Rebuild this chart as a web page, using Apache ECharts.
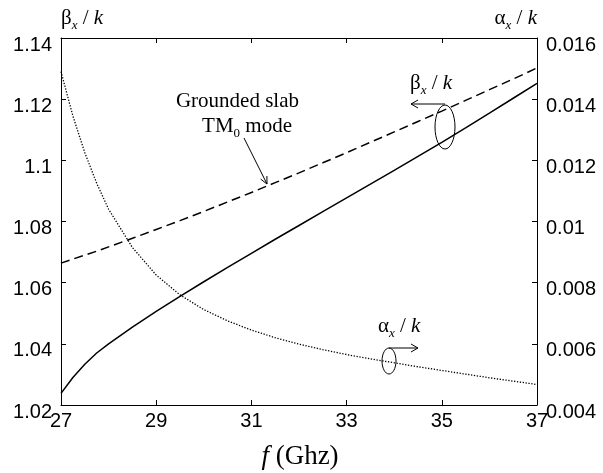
<!DOCTYPE html>
<html>
<head>
<meta charset="utf-8">
<script src="https://cdn.jsdelivr.net/npm/echarts@6.0.0/dist/echarts.min.js"></script>
<style>
  html, body { margin: 0; padding: 0; background: #fff; }
  #chart { width: 603px; height: 473px; }
</style>
</head>
<body>
<div id="chart"></div>
<script>
// Frequency samples (GHz)
const freq = [27, 27.25, 27.5, 27.75, 28, 28.5, 29, 29.5, 30, 30.5, 31, 31.5, 32,
              32.5, 33, 33.5, 34, 34.5, 35, 35.5, 36, 36.5, 37];

// Normalized phase constant of the leaky mode (left axis)
const betaLeaky = [1.0238, 1.0290, 1.0333, 1.0370, 1.0400, 1.0455, 1.0506, 1.0555, 1.0603,
                   1.0650, 1.0696, 1.0742, 1.0787, 1.0832, 1.0877, 1.0922, 1.0967, 1.1013,
                   1.1059, 1.1106, 1.1154, 1.1203, 1.1252];

// Grounded slab TM0 mode (left axis)
const betaSlab = [1.0664, 1.0677, 1.0690, 1.0703, 1.0717, 1.0745, 1.0774, 1.0803, 1.0833,
                  1.0864, 1.0895, 1.0927, 1.0959, 1.0992, 1.1025, 1.1059, 1.1093, 1.1127,
                  1.1161, 1.1196, 1.1231, 1.1266, 1.1302];

// Normalized attenuation constant of the leaky mode (right axis)
const alphaLeaky = [0.01490, 0.01345, 0.01225, 0.01125, 0.01040, 0.00915, 0.00825, 0.00760,
                    0.00712, 0.00675, 0.00645, 0.00620, 0.00599, 0.00581, 0.00565, 0.00551,
                    0.00538, 0.00525, 0.00513, 0.00501, 0.00489, 0.00478, 0.00467];

const freqTicks = [27, 29, 31, 33, 35, 37];
const betaRange = [1.02, 1.14, 0.02];
const alphaRange = [0.004, 0.016, 0.002];

const SERIF = '"Liberation Serif", "DejaVu Serif", serif';
const SANS = '"Liberation Sans", Arial, sans-serif';

const pairs = (ys) => freq.map((f, i) => [f, ys[i]]);

const tickStyle = { show: true, inside: true, length: 5, lineStyle: { color: '#000', width: 1 } };
const lineAxis = { show: true, lineStyle: { color: '#000', width: 1 } };
// value labels sit a little below their ticks
const yLabel = {
  color: '#000', fontFamily: SANS, fontSize: 20, margin: 9,
  verticalAlign: 'top', lineHeight: 14
};

// Rich-text styles shared by the math-like labels
function mathRich(size) {
  return {
    g: { fontFamily: SERIF, fontSize: size, lineHeight: size + 8, color: '#000' },
    s: { fontFamily: SERIF, fontSize: Math.round(size * 0.62), fontStyle: 'italic',
         lineHeight: Math.round(size * 0.62), verticalAlign: 'bottom', color: '#000' },
    i: { fontFamily: SERIF, fontSize: size, fontStyle: 'italic', lineHeight: size + 8, color: '#000' },
    n: { fontFamily: SERIF, fontSize: size, lineHeight: size + 8, color: '#000' }
  };
}

const chart = echarts.init(document.getElementById('chart'), null, { renderer: 'canvas' });

// open arrowhead on a horizontal arrow (dir +1 right, -1 left)
const arrowHead = (x, y, dir) => [[x - dir * 7, y - 4], [x, y], [x - dir * 7, y + 4]];

// open arrowhead at the end of a slanted segment
function headAlong(x0, y0, x1, y1) {
  const a = Math.atan2(y1 - y0, x1 - x0);
  const L = 8, w = 0.45;
  return [
    [x1 - L * Math.cos(a - w), y1 - L * Math.sin(a - w)],
    [x1, y1],
    [x1 - L * Math.cos(a + w), y1 - L * Math.sin(a + w)]
  ];
}

const stroke = { stroke: '#000', lineWidth: 1, fill: null };

const option = {
  animation: false,
  backgroundColor: '#fff',
  grid: { left: 61, right: 66, top: 38, bottom: 68, containLabel: false },
  xAxis: [
    {
      type: 'value', position: 'bottom', min: freqTicks[0], max: freqTicks[freqTicks.length - 1],
      axisLine: lineAxis,
      axisTick: Object.assign({ customValues: freqTicks }, tickStyle),
      axisLabel: { customValues: freqTicks, color: '#000', fontFamily: SANS, fontSize: 20, margin: 6 },
      splitLine: { show: false }
    },
    {
      type: 'value', position: 'top', min: freqTicks[0], max: freqTicks[freqTicks.length - 1],
      axisLine: lineAxis,
      axisTick: Object.assign({ customValues: freqTicks }, tickStyle),
      axisLabel: { show: false },
      splitLine: { show: false }
    }
  ],
  yAxis: [
    {
      type: 'value', position: 'left', min: betaRange[0], max: betaRange[1], interval: betaRange[2],
      axisLine: lineAxis, axisTick: tickStyle, axisLabel: yLabel,
      splitLine: { show: false }
    },
    {
      type: 'value', position: 'right', min: alphaRange[0], max: alphaRange[1], interval: alphaRange[2],
      axisLine: lineAxis, axisTick: tickStyle, axisLabel: yLabel,
      splitLine: { show: false }
    }
  ],
  series: [
    {
      name: 'leaky beta', type: 'line', xAxisIndex: 0, yAxisIndex: 0,
      data: pairs(betaLeaky), showSymbol: false, smooth: false,
      lineStyle: { color: '#000', width: 1.5, type: 'solid' }, silent: true
    },
    {
      name: 'slab beta', type: 'line', xAxisIndex: 0, yAxisIndex: 0,
      data: pairs(betaSlab), showSymbol: false, smooth: false,
      lineStyle: { color: '#000', width: 1.5, type: [9, 5] }, silent: true
    },
    {
      name: 'leaky alpha', type: 'line', xAxisIndex: 0, yAxisIndex: 1,
      data: pairs(alphaLeaky), showSymbol: false, smooth: false,
      lineStyle: { color: '#000', width: 1.3, type: [1.3, 1.6] }, silent: true
    }
  ],
  graphic: [
    // axis titles
    { type: 'text', x: 61, y: 18, style: {
        text: '{g|β}{s|x}{n| / }{i|k}', rich: mathRich(21), align: 'left', verticalAlign: 'middle' } },
    { type: 'text', x: 537, y: 18, style: {
        text: '{g|α}{s|x}{n| / }{i|k}', rich: mathRich(21), align: 'right', verticalAlign: 'middle' } },
    { type: 'text', x: 300, y: 457, style: {
        text: '{i|f}{n| (Ghz)}', rich: mathRich(27), align: 'center', verticalAlign: 'middle' } },

    // grounded slab annotation
    { type: 'text', x: 299, y: 101, style: {
        text: '{n|Grounded slab}', rich: mathRich(21), align: 'right', verticalAlign: 'middle' } },
    { type: 'text', x: 247, y: 126, style: {
        text: '{n|TM}{z|0}{n| mode}', align: 'center', verticalAlign: 'middle',
        rich: Object.assign(mathRich(21), { z: { fontFamily: SERIF, fontSize: 13, lineHeight: 13,
          verticalAlign: 'bottom', color: '#000' } }) } },
    { type: 'line', shape: { x1: 244, y1: 138, x2: 267, y2: 184 }, style: stroke },
    { type: 'polyline', shape: { points: headAlong(244, 138, 267, 184) }, style: stroke },

    // beta/k annotation with ring pointing to left axis
    { type: 'text', x: 410, y: 83, style: {
        text: '{g|β}{s|x}{n| / }{i|k}', rich: mathRich(21), align: 'left', verticalAlign: 'middle' } },
    { type: 'line', shape: { x1: 445, y1: 104, x2: 411, y2: 104 }, style: stroke },
    { type: 'polyline', shape: { points: arrowHead(411, 104, -1) }, style: stroke },
    { type: 'ellipse', shape: { cx: 445, cy: 127, rx: 10, ry: 22 }, style: stroke },

    // alpha/k annotation with ring pointing to right axis
    { type: 'text', x: 378, y: 326, style: {
        text: '{g|α}{s|x}{n| / }{i|k}', rich: mathRich(21), align: 'left', verticalAlign: 'middle' } },
    { type: 'line', shape: { x1: 389, y1: 348, x2: 418, y2: 348 }, style: stroke },
    { type: 'polyline', shape: { points: arrowHead(418, 348, 1) }, style: stroke },
    { type: 'ellipse', shape: { cx: 389, cy: 361, rx: 7, ry: 13 }, style: stroke }
  ]
};

chart.setOption(option);
</script>
</body>
</html>
